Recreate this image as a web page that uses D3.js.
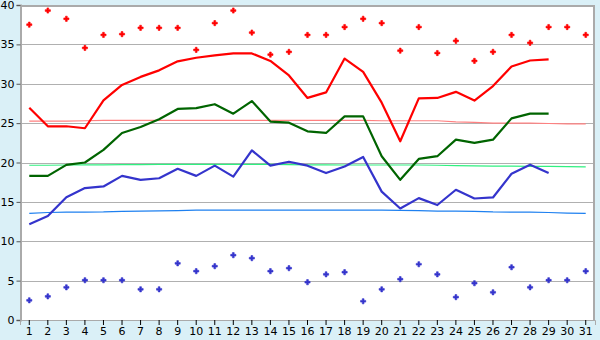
<!DOCTYPE html>
<html>
<head>
<meta charset="utf-8">
<script src="https://cdn.jsdelivr.net/npm/d3@7"></script>
<style>
  body { margin: 0; background: #daf0f7; }
  svg { display: block; font-family: "DejaVu Sans", sans-serif; font-size: 11px; }
</style>
</head>
<body>
<svg id="chart"></svg>
<script>
const days = d3.range(1, 32);
const yTicks = [0, 5, 10, 15, 20, 25, 30, 35, 40];

// daily extremes (markers)
const maxMarks = [37.5, 39.3, 38.25, 34.55, 36.2, 36.3, 37.1, 37.1, 37.1, 34.3, 37.7, 39.3, 36.5, 33.7, 34.05, 36.2,
  36.2, 37.2, 38.25, 37.7, 34.2, 37.2, 33.9, 35.45, 32.9, 34.05, 36.2, 35.2, 37.2, 37.2, 36.2];
const minMarks = [2.5, 3.0, 4.15, 5.05, 5.05, 5.05, 3.9, 3.9, 7.2, 6.2, 6.83, 8.23, 7.85, 6.2, 6.58, 4.8,
  5.8, 6.07, 2.38, 3.9, 5.18, 7.08, 5.8, 2.9, 4.67, 3.52, 6.7, 4.15, 5.05, 5.05, 6.2];

// measured series (days 1..29)
const redLine = [26.95, 24.6, 24.6, 24.35, 27.9, 29.85, 30.87, 31.7, 32.85, 33.3, 33.6, 33.85, 33.85, 32.9, 31.05, 28.2,
  28.9, 33.2, 31.5, 27.6, 22.7, 28.15, 28.2, 28.97, 27.86, 29.7, 32.2, 32.95, 33.1];
const greenLine = [18.3, 18.3, 19.7, 20.0, 21.6, 23.75, 24.5, 25.5, 26.8, 26.9, 27.4, 26.2, 27.8, 25.2, 25.06, 23.96,
  23.75, 25.86, 25.86, 20.8, 17.8, 20.45, 20.8, 22.9, 22.5, 22.9, 25.6, 26.2, 26.2];
const blueLine = [12.17, 13.2, 15.6, 16.75, 16.96, 18.3, 17.8, 18.0, 19.2, 18.3, 19.6, 18.2, 21.55, 19.6, 20.1, 19.6,
  18.66, 19.5, 20.7, 16.3, 14.16, 15.48, 14.6, 16.54, 15.43, 15.56, 18.57, 19.72, 18.66];

// normals (days 1..31)
const normMax = [25.25, 25.25, 25.25, 25.3, 25.35, 25.35, 25.35, 25.35, 25.35, 25.35, 25.35, 25.35, 25.35, 25.35, 25.35, 25.35,
  25.35, 25.35, 25.35, 25.3, 25.3, 25.3, 25.3, 25.15, 25.1, 25.0, 25.0, 25.0, 24.95, 24.9, 24.9];
const normMean = [19.65, 19.65, 19.68, 19.7, 19.7, 19.72, 19.72, 19.75, 19.75, 19.75, 19.75, 19.75, 19.75, 19.75, 19.72, 19.7,
  19.7, 19.68, 19.68, 19.68, 19.68, 19.68, 19.65, 19.6, 19.58, 19.55, 19.55, 19.52, 19.5, 19.48, 19.45];
const normMin = [13.55, 13.65, 13.7, 13.7, 13.72, 13.8, 13.83, 13.85, 13.9, 13.95, 13.95, 13.95, 13.95, 13.95, 13.95, 13.95,
  13.95, 13.95, 13.95, 13.95, 13.92, 13.88, 13.83, 13.82, 13.8, 13.72, 13.7, 13.7, 13.65, 13.58, 13.55];

const W = 600, H = 340;
const m = { left: 20, top: 5, right: 5, bottom: 20 };

const svg = d3.select("#chart").attr("width", W).attr("height", H);

const x = d3.scaleBand().domain(days).range([m.left, W - m.right]);
const cx = d => x(d) + x.bandwidth() / 2;
const y = d3.scaleLinear().domain([0, 40]).range([H - m.bottom, m.top]);

// plot background
svg.append("rect")
  .attr("x", m.left).attr("y", m.top)
  .attr("width", W - m.left - m.right).attr("height", H - m.top - m.bottom)
  .attr("fill", "#fff");

// grid
svg.append("g")
  .selectAll("line")
  .data(yTicks.filter(t => t > 0 && t < 40))
  .join("line")
  .attr("x1", m.left).attr("x2", W - m.right)
  .attr("y1", d => Math.round(y(d)) + 0.5).attr("y2", d => Math.round(y(d)) + 0.5)
  .attr("stroke", "#b0b0b0");

// frame
svg.append("path")
  .attr("d", `M${m.left},${m.top + 1}H${W - m.right - 1}V${H - m.bottom}`)
  .attr("fill", "none").attr("stroke", "#aaa").attr("stroke-width", 2);

// axes
const yAxis = svg.append("g")
  .attr("transform", `translate(${m.left + 0.5},0)`)
  .call(d3.axisLeft(y).tickValues(yTicks).tickSize(4).tickPadding(2));
yAxis.select(".domain").attr("stroke", "#aaa").attr("stroke-width", 2);
yAxis.selectAll(".tick line").attr("stroke", "#555");
yAxis.selectAll("text").attr("fill", "#000").style("font-size", "11px").style("font-family", "DejaVu Sans");

const xAxis = svg.append("g")
  .attr("transform", `translate(0,${H - m.bottom})`)
  .call(d3.axisBottom(x).tickSize(5).tickPadding(2));
xAxis.select(".domain").attr("stroke", "#aaa").attr("stroke-width", 1);
xAxis.selectAll(".tick line").attr("stroke", "#000");
xAxis.selectAll("text").attr("fill", "#000").style("font-size", "11px").style("font-family", "DejaVu Sans");

// normal lines
const line = d3.line().x((d, i) => cx(days[i])).y(d => y(d));
[[normMax, "#ff8080"], [normMean, "#30f080"], [normMin, "#1e80f0"]].forEach(([data, c]) => {
  svg.append("path").datum(data)
    .attr("d", line).attr("fill", "none").attr("stroke", c).attr("stroke-width", 1.2);
});

// measured lines
[[redLine, "#ff0000"], [greenLine, "#006400"], [blueLine, "#3434cc"]].forEach(([data, c]) => {
  svg.append("path").datum(data)
    .attr("d", line).attr("fill", "none").attr("stroke", c).attr("stroke-width", 2.2)
    .attr("stroke-linejoin", "round");
});

// markers
const cross = d3.symbol(d3.symbolCross, 15);
[[maxMarks, "#ff0000"], [minMarks, "#3434cc"]].forEach(([data, c]) => {
  svg.append("g")
    .selectAll("path")
    .data(data)
    .join("path")
    .attr("transform", (d, i) => `translate(${cx(days[i])},${y(d)})`)
    .attr("d", cross)
    .attr("fill", c)
    .attr("stroke", c).attr("stroke-width", 0.6);
});
</script>
</body>
</html>
